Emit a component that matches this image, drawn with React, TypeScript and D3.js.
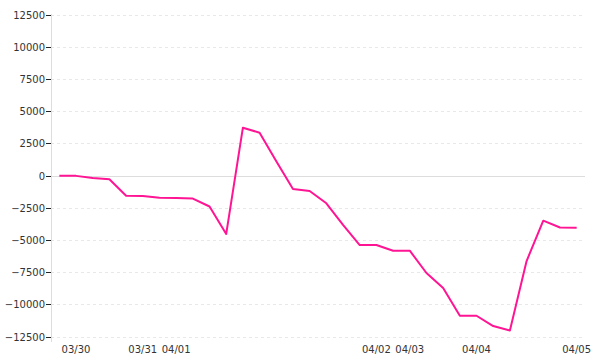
import React from "react";
import * as d3 from "d3";

const values: number[] = [
  20, 10, -150, -250, -1530, -1560, -1680, -1700, -1750, -2370, -4500,
  3750, 3360, 1150, -1010, -1160, -2120, -3800, -5360, -5360, -5800, -5800,
  -7530, -8700, -10850, -10850, -11650, -12000, -6600, -3470, -4000, -4010,
];
const tickLabels: string[] = [
  "", "03/30", "", "", "", "03/31", "", "04/01", "", "", "", "", "", "", "", "", "", "", "", "04/02", "", "04/03",
  "", "", "", "04/04", "", "", "", "", "", "04/05",
];
const yTicks: number[] = [-12500, -10000, -7500, -5000, -2500, 0, 2500, 5000, 7500, 10000, 12500];

const W = 600, H = 360;
const left = 51, right = 585, top = 15, bottom = 337;

export default function App() {
  const idx = values.map((_, i) => i);
  const x = d3.scalePoint<number>().domain(idx).range([left, right]).padding(0.5);
  const y = d3.scaleLinear().domain([-12500, 12500]).range([bottom, top]);
  const line = d3.line<number>().x((_, i) => x(i)!).y((d) => y(d));
  const fmt = d3.format("d");
  const font = "'DejaVu Sans', Verdana, sans-serif";
  return (
    <svg width={W} height={H} style={{ position: "absolute", left: 0, top: 0 }}>
      <rect width={W} height={H} fill="#fff" />
      {yTicks.map((t) => (
        <line key={"g" + t} x1={left} x2={right} y1={y(t)} y2={y(t)}
          stroke={t === 0 ? "#dddddd" : "#e8e8e8"} strokeWidth={1}
          strokeDasharray={t === 0 ? undefined : "3,3"} shapeRendering="crispEdges" />
      ))}
      <line x1={left} x2={left} y1={top - 1} y2={bottom + 5} stroke="#dddddd" shapeRendering="crispEdges" />
      {yTicks.map((t) => (
        <g key={"t" + t} transform={`translate(0,${y(t)})`}>
          <line x1={left - 5} x2={left} stroke="#222" shapeRendering="crispEdges" />
          <text x={left - 6} dy="0.35em" textAnchor="end" fontSize={10} fontFamily={font} fill="#333">
            {t < 0 ? "\u2212" + fmt(-t) : fmt(t)}
          </text>
        </g>
      ))}
      {tickLabels.map((l, i) => l ? (
        <text key={"x" + i} x={x(i)} y={bottom + 12} dy="0.35em" textAnchor="middle" fontSize={10} fontFamily={font} fill="#333">{l}</text>
      ) : null)}
      <path d={line(values) || ""} fill="none" stroke="#ff1493" strokeWidth={2} strokeLinejoin="round" />
    </svg>
  );
}
